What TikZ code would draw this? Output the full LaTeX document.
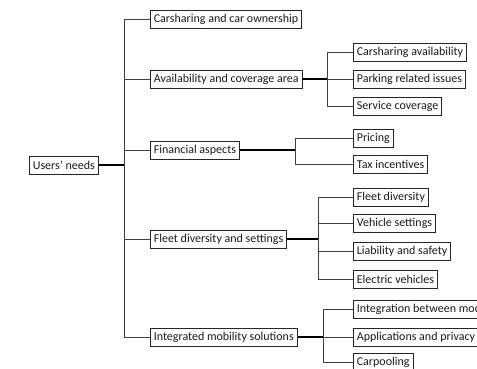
\documentclass[tikz,border=0pt]{standalone}
\usepackage{fontspec}
\setmainfont{Carlito}
\begin{document}
\begin{tikzpicture}[x=1pt,y=-1pt,
  box/.style={draw=black!85,line width=0.7pt,anchor=west,minimum height=18pt,inner xsep=3.5pt,inner ysep=0pt,font=\fontsize{12}{13}\selectfont,text=black!90},
  link/.style={line width=0.7pt,draw=black!75},
  heavy/.style={line width=1.4pt,draw=black}]
\useasboundingbox (0,0) rectangle (477,369);
\clip (0,0) rectangle (477,369);
% root and level 1
\node[box] (root) at (29,165) {Users’ needs};
\node[box] (c1) at (150,19) {Carsharing and car ownership};
\node[box] (c2) at (150,79) {Availability and coverage area};
\node[box] (c3) at (150,150) {Financial aspects};
\node[box] (c4) at (150,239) {Fleet diversity and settings};
\node[box] (c5) at (150,337) {Integrated mobility solutions};
% level 2
\node[box] (c21) at (353,52) {Carsharing availability};
\node[box] (c22) at (353,79) {Parking related issues};
\node[box] (c23) at (353,106) {Service coverage};
\node[box] (c31) at (353,138) {Pricing};
\node[box] (c32) at (353,164) {Tax incentives};
\node[box] (c41) at (353,197) {Fleet diversity};
\node[box] (c42) at (353,223) {Vehicle settings};
\node[box] (c43) at (353,251) {Liability and safety};
\node[box] (c44) at (353,279) {Electric vehicles};
\node[box] (c51) at (353,309) {Integration between modes};
\node[box] (c52) at (353,337) {Applications and privacy};
\node[box] (c53) at (353,362) {Carpooling};
% bracket positions
\coordinate (t) at (124,0);
\coordinate (b2) at (327,0);
\coordinate (b3) at (295,0);
\coordinate (b4) at (318,0);
\coordinate (b5) at (323,0);
% trunk
\draw[link,line width=1pt] (t |- c1.west) -- (t |- c5.west);
\draw[heavy] (root.east) -- (t |- root.east);
\foreach \n in {c1,c2,c3,c4,c5} \draw[link] (t |- \n.west) -- (\n.west);
% groups
\draw[heavy] (c2.east) -- (b2 |- c2.east);
\draw[link] (b2 |- c21.west) -- (b2 |- c23.west);
\foreach \n in {c21,c22,c23} \draw[link] (b2 |- \n.west) -- (\n.west);
\draw[heavy] (c3.east) -- (b3 |- c3.east);
\draw[link] (b3 |- c31.west) -- (b3 |- c32.west);
\foreach \n in {c31,c32} \draw[link] (b3 |- \n.west) -- (\n.west);
\draw[heavy] (c4.east) -- (b4 |- c4.east);
\draw[link] (b4 |- c41.west) -- (b4 |- c44.west);
\foreach \n in {c41,c42,c43,c44} \draw[link] (b4 |- \n.west) -- (\n.west);
\draw[heavy] (c5.east) -- (b5 |- c5.east);
\draw[link] (b5 |- c51.west) -- (b5 |- c53.west);
\foreach \n in {c51,c52,c53} \draw[link] (b5 |- \n.west) -- (\n.west);
\end{tikzpicture}
\end{document}
